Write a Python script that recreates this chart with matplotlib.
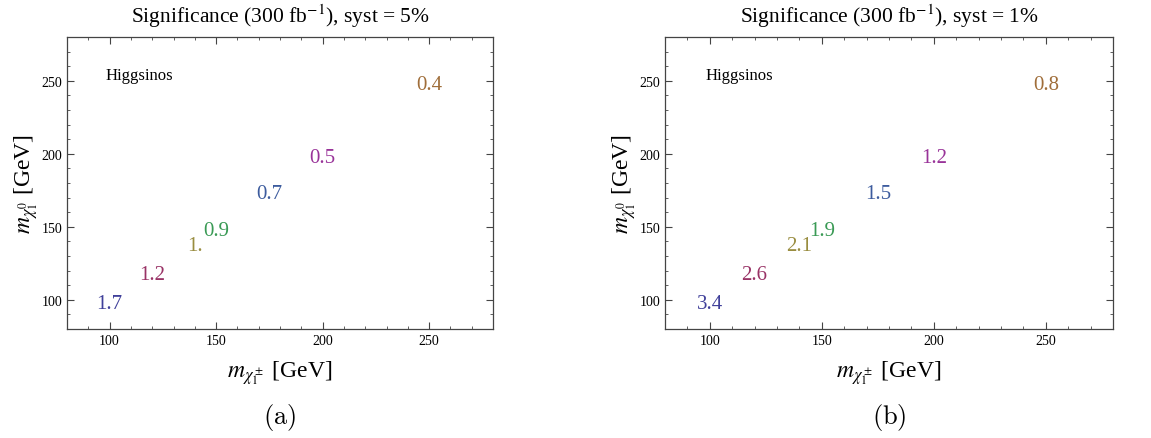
import matplotlib
matplotlib.use("Agg")
import matplotlib.pyplot as plt
from matplotlib.ticker import MultipleLocator

plt.rcParams['font.family'] = ['Liberation Serif', 'DejaVu Serif']
plt.rcParams['mathtext.fontset'] = 'stix'

# benchmark points: chargino mass, neutralino mass
m_chargino = [100, 120, 140, 150, 175, 200, 250]
m_neutralino = [97.5, 117.5, 137.5, 147.5, 172.5, 197.5, 247.5]

# significance labels
sig_syst5 = ['1.7', '1.2', '1.', '0.9', '0.7', '0.5', '0.4']
sig_syst1 = ['3.4', '2.6', '2.1', '1.9', '1.5', '1.2', '0.8']

colors = ['#40409a', '#993366', '#998d40', '#3a9a55', '#3d5c9e', '#993399', '#a06e3a']

titles = [r'Significance (300 fb$^{-1}$), syst = 5%',
          r'Significance (300 fb$^{-1}$), syst = 1%']
panel_tags = ['(a)', '(b)']

fig = plt.figure(figsize=(11.51, 4.39), dpi=100)
axes = [fig.add_axes([67/1151, 1-330/439, 426/1151, 292/439]),
        fig.add_axes([665/1151, 1-330/439, 448/1151, 292/439])]

for ax, labels, title, tag in zip(axes, [sig_syst5, sig_syst1], titles, panel_tags):
    for x, y, s, c in zip(m_chargino, m_neutralino, labels, colors):
        ax.text(x, y, s, color=c, fontsize=15, ha='center', va='center')
    ax.text(0.09, 0.87, 'Higgsinos', transform=ax.transAxes, fontsize=12,
            ha='left', va='center')
    ax.set_xlim(80, 280)
    ax.set_ylim(80, 280)
    ax.xaxis.set_major_locator(MultipleLocator(50))
    ax.xaxis.set_minor_locator(MultipleLocator(10))
    ax.yaxis.set_major_locator(MultipleLocator(50))
    ax.yaxis.set_minor_locator(MultipleLocator(10))
    ax.tick_params(which='both', direction='in', top=True, right=True,
                   labelsize=10, color='#444444')
    ax.tick_params(which='major', length=5)
    ax.tick_params(which='minor', length=2.5)
    for sp in ax.spines.values():
        sp.set_color('#444444')
        sp.set_linewidth(0.9)
    ax.set_title(title, fontsize=15.5, pad=11)
    ax.set_xlabel(r'$m_{\chi_1^\pm}$ [GeV]', fontsize=17, labelpad=8)
    ax.set_ylabel(r'$m_{\chi_1^0}$ [GeV]', fontsize=17, labelpad=1)
    ax.text(0.5, -0.3, r'$\mathrm{(' + tag[1] + r')}$', transform=ax.transAxes,
            fontsize=19, ha='center', va='center', math_fontfamily='cm')

fig.savefig('out.png', dpi=100)
